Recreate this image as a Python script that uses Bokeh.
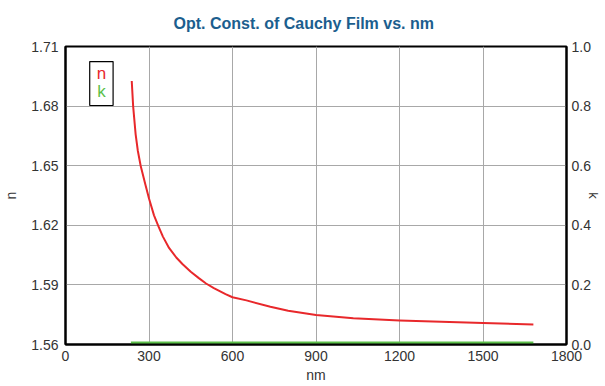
from bokeh.plotting import figure
from bokeh.models import (Range1d, LinearAxis, FixedTicker, PrintfTickFormatter,
                          BoxAnnotation, Label, Title)
from bokeh.embed import file_html
from bokeh.resources import INLINE

# ---- data ----
wavelength_nm = [238, 243, 252, 260, 270, 286, 300, 318, 334, 350, 372, 398,
                 420, 450, 479, 505, 533, 575, 600, 650, 736, 800, 900, 1034,
                 1200, 1500, 1681]
n_values = [1.6926, 1.6800, 1.6658, 1.6574, 1.6500, 1.6410, 1.6335, 1.6250,
            1.6195, 1.6143, 1.6086, 1.6038, 1.6005, 1.5966, 1.5934, 1.5907,
            1.5884, 1.5854, 1.5838, 1.5822, 1.5790, 1.5770, 1.5748, 1.5732,
            1.5721, 1.5708, 1.5701]
k_nm = [235, 1681]
k_values = [0.0, 0.0]

x_ticks = [0, 300, 600, 900, 1200, 1500, 1800]
n_ticks = [1.56, 1.59, 1.62, 1.65, 1.68, 1.71]
k_ticks = [0.0, 0.2, 0.4, 0.6, 0.8, 1.0]

title_text = "Opt. Const. of Cauchy Film vs. nm"
RED = "#e8282b"
GREEN = "#5cbf4a"
GRID = "#a8a8a8"
TICK_COLOR = "#333333"
FONT = "Liberation Sans"

p = figure(width=605, height=386, output_backend="svg", toolbar_location=None,
           x_range=Range1d(0, 1800), y_range=Range1d(1.56, 1.71),
           min_border_left=65, min_border_right=39, min_border_top=46,
           min_border_bottom=42, background_fill_color="white",
           border_fill_color="white")
p.extra_y_ranges = {"k": Range1d(0, 1.0)}

p.title.text = title_text
p.title.align = "left"
p.title.offset = 108
p.title.vertical_align = "top"
p.title.text_color = "#1b5e8e"
p.title.text_font = FONT
p.title.text_font_size = "16px"
p.title.text_font_style = "bold"
p.title.standoff = 26

p.outline_line_color = "black"
p.outline_line_width = 2
p.outline_line_alpha = 1.0


def style_axis(ax):
    ax.axis_line_color = "black"
    ax.axis_line_width = 2
    ax.major_tick_line_color = None
    ax.minor_tick_line_color = None
    ax.major_tick_out = 0
    ax.major_tick_in = 0
    ax.minor_tick_out = 0
    ax.minor_tick_in = 0
    ax.major_label_text_font = FONT
    ax.major_label_text_font_size = "14px"
    ax.major_label_text_color = TICK_COLOR
    ax.axis_label_text_font = FONT
    ax.axis_label_text_font_size = "14px"
    ax.axis_label_text_font_style = "normal"
    ax.axis_label_text_color = TICK_COLOR


style_axis(p.xaxis[0])
style_axis(p.yaxis[0])

p.xaxis[0].ticker = FixedTicker(ticks=x_ticks)
p.xaxis[0].formatter = PrintfTickFormatter(format="%d")
p.xaxis[0].major_label_standoff = 6

p.yaxis[0].ticker = FixedTicker(ticks=n_ticks)
p.yaxis[0].formatter = PrintfTickFormatter(format="%.2f")
p.yaxis[0].major_label_standoff = 7
p.yaxis[0].axis_label = "n"
p.yaxis[0].axis_label_standoff = 9

kaxis = LinearAxis(y_range_name="k", ticker=FixedTicker(ticks=k_ticks),
                   formatter=PrintfTickFormatter(format="%.1f"))
style_axis(kaxis)
kaxis.major_label_standoff = 5
kaxis.axis_label = "k"
kaxis.axis_label_text_font_size = "13px"
kaxis.axis_label_standoff = -8
p.add_layout(kaxis, "right")

# x-axis title as a panel below the axis
xtitle = Title(text="nm", align="center", text_font=FONT,
               text_font_size="14px", text_font_style="normal",
               text_color=TICK_COLOR, standoff=2)
p.add_layout(xtitle, "below")

p.xgrid.grid_line_color = GRID
p.ygrid.grid_line_color = GRID
p.xgrid.ticker = FixedTicker(ticks=x_ticks[1:-1])
p.ygrid.ticker = FixedTicker(ticks=n_ticks[1:-1])

p.line(wavelength_nm, n_values, line_color=RED, line_width=2,
       line_join="round")
p.line(k_nm, k_values, line_color=GREEN, line_width=6, y_range_name="k")

# legend box (text only, coloured)
p.add_layout(BoxAnnotation(left=87, right=171, top=1.7024, bottom=1.6803,
                           fill_color="white", fill_alpha=1.0,
                           line_color="black", line_alpha=1.0, line_width=1.2))
p.add_layout(Label(x=129, y=1.6966, text="n", text_color=RED,
                   text_font=FONT, text_font_size="17px",
                   text_align="center", text_baseline="middle"))
p.add_layout(Label(x=129, y=1.6876, text="k", text_color=GREEN,
                   text_font=FONT, text_font_size="17px",
                   text_align="center", text_baseline="middle"))

open("out.html", "w").write(file_html(p, INLINE))
